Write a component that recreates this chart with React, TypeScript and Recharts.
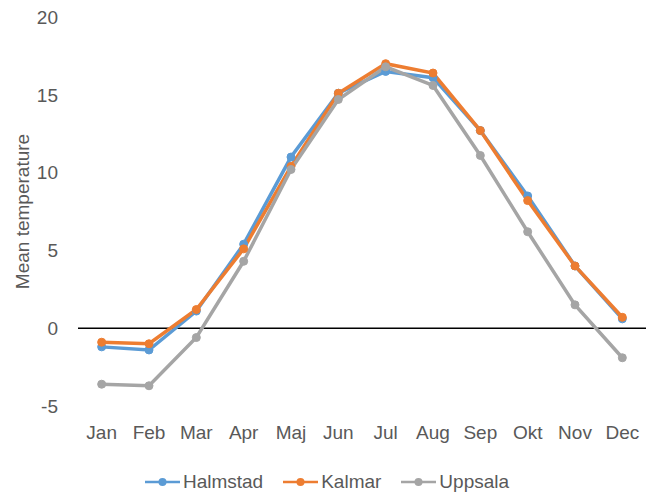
import { LineChart, Line, XAxis, YAxis, ReferenceLine, Legend, Label } from 'recharts'

const months = ['Jan', 'Feb', 'Mar', 'Apr', 'Maj', 'Jun', 'Jul', 'Aug', 'Sep', 'Okt', 'Nov', 'Dec']
const halmstad = [-1.2, -1.4, 1.1, 5.4, 11.0, 15.1, 16.5, 16.1, 12.7, 8.5, 4.0, 0.6]
const kalmar = [-0.9, -1.0, 1.2, 5.1, 10.4, 15.1, 17.0, 16.4, 12.7, 8.2, 4.0, 0.7]
const uppsala = [-3.6, -3.7, -0.6, 4.3, 10.2, 14.7, 16.8, 15.6, 11.1, 6.2, 1.5, -1.9]
const yTicks = [-5, 0, 5, 10, 15, 20]

const series = [
  { key: 'Halmstad', color: '#5B9BD5' },
  { key: 'Kalmar', color: '#ED7D31' },
  { key: 'Uppsala', color: '#A5A5A5' },
]

const data = months.map((m, i) => ({
  month: m,
  Halmstad: halmstad[i],
  Kalmar: kalmar[i],
  Uppsala: uppsala[i],
}))

const FONT = '"Liberation Sans", Arial, sans-serif'
const TEXT = '#595959'

// legend: short line with a dot, like Excel
const renderLegend = () => (
  <div style={{
    display: 'flex', justifyContent: 'center', alignItems: 'flex-end', gap: 20, height: 60,
    paddingLeft: 8, boxSizing: 'border-box', fontFamily: FONT, fontSize: 19, color: TEXT,
  }}>
    {series.map(s => (
      <div key={s.key} style={{ display: 'flex', alignItems: 'center', lineHeight: '22px' }}>
        <svg width={35} height={12} style={{ marginRight: 3 }}>
          <line x1={0} y1={6} x2={35} y2={6} stroke={s.color} strokeWidth={2.5} />
          <circle cx={17.5} cy={6} r={4} fill={s.color} />
        </svg>
        <span>{s.key}</span>
      </div>
    ))}
  </div>
)

export default function App() {
  return (
    <div style={{ position: 'absolute', left: 0, top: 0, background: '#fff' }}>
      <LineChart width={652} height={493} data={data} margin={{ top: 17, right: 6, left: 0, bottom: 0 }}>
        <XAxis
          dataKey="month"
          scale="band"
          axisLine={false}
          tickLine={false}
          tick={{ fontSize: 19, fill: TEXT, fontFamily: FONT }}
          tickMargin={14}
          height={27}
          interval={0}
        />
        <YAxis
          domain={[-5, 20]}
          ticks={yTicks}
          axisLine={false}
          tickLine={false}
          width={78}
          tick={{ fontSize: 19, fill: TEXT, fontFamily: FONT }}
          tickMargin={14}
        >
          <Label
            value="Mean temperature"
            angle={-90}
            position="insideLeft"
            offset={22}
            style={{ fontSize: 19, fill: TEXT, fontFamily: FONT, textAnchor: 'middle' }}
          />
        </YAxis>
        <ReferenceLine y={0} stroke="#000" strokeWidth={1.5} />
        <Legend verticalAlign="bottom" height={60} content={renderLegend} wrapperStyle={{ bottom: 0 }} />
        {series.map(s => (
          <Line
            key={s.key}
            dataKey={s.key}
            stroke={s.color}
            strokeWidth={3.5}
            dot={{ r: 4, fill: s.color, stroke: s.color, strokeWidth: 1 }}
            isAnimationActive={false}
          />
        ))}
      </LineChart>
    </div>
  )
}
